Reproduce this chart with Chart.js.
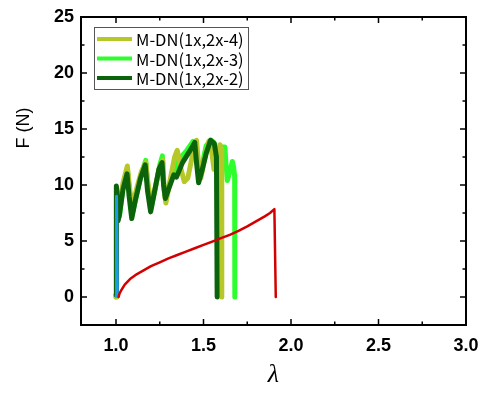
<!DOCTYPE html>
<html>
<head>
<meta charset="utf-8">
<script src="https://cdn.jsdelivr.net/npm/chart.js@4.4.1/dist/chart.umd.min.js"></script>
<style>
  html, body { margin: 0; padding: 0; background: #fff; }
</style>
</head>
<body>
<canvas id="forceChart" width="483" height="397"></canvas>
<script>
// Series: [lambda, F]
const seriesNames = ["M-DN(1x,2x-4)", "M-DN(1x,2x-3)", "M-DN(1x,2x-2)"];

const dn24 = [
  [1.0, 0], [1.003, 9.6], [1.01, 8.0], [1.02, 7.8], [1.04, 10.2], [1.065, 11.7],
  [1.08, 9.4], [1.095, 8.2], [1.12, 9.8], [1.145, 11.2], [1.17, 12.0], [1.185, 9.8],
  [1.205, 8.4], [1.23, 10.2], [1.25, 11.6], [1.268, 12.2], [1.275, 9.5], [1.285, 8.4],
  [1.31, 10.5], [1.335, 12.5], [1.35, 13.1], [1.37, 11.5], [1.39, 10.3], [1.41, 10.6],
  [1.435, 12.5], [1.46, 14.0], [1.47, 12.2], [1.485, 10.6], [1.505, 12.2], [1.53, 13.9],
  [1.545, 13.2], [1.56, 11.4], [1.575, 12.4], [1.594, 13.6], [1.6, 13.2], [1.604, 12.0],
  [1.605, 0]
];
const dn23 = [
  [1.0, 0], [1.003, 9.3], [1.01, 7.5], [1.02, 7.2], [1.04, 9.8], [1.065, 11.4],
  [1.078, 9.2], [1.092, 7.3], [1.115, 8.9], [1.145, 11.0], [1.17, 12.2], [1.183, 9.8],
  [1.2, 7.9], [1.225, 9.7], [1.25, 11.8], [1.265, 12.6], [1.27, 10.5], [1.28, 9.0],
  [1.3, 9.9], [1.33, 11.2], [1.36, 12.3], [1.4, 13.0], [1.44, 13.9], [1.46, 12.5],
  [1.475, 10.8], [1.49, 11.6], [1.515, 13.5], [1.54, 14.0], [1.56, 13.8], [1.57, 12.4],
  [1.585, 11.9], [1.6, 13.4], [1.622, 13.4], [1.628, 12.0], [1.636, 10.4], [1.65, 11.2],
  [1.665, 12.1], [1.672, 11.6], [1.678, 10.8], [1.679, 0]
];
const dn22 = [
  [1.0, 0.2], [1.002, 9.9], [1.006, 9.4], [1.012, 6.8], [1.02, 7.4], [1.04, 9.6],
  [1.063, 11.0], [1.075, 9.0], [1.09, 7.0], [1.11, 8.6], [1.14, 10.6], [1.167, 11.8],
  [1.18, 9.5], [1.198, 7.6], [1.22, 9.4], [1.245, 11.4], [1.263, 12.0], [1.272, 10.0],
  [1.282, 8.8], [1.3, 9.6], [1.33, 10.9], [1.345, 10.7], [1.38, 12.0], [1.42, 13.0],
  [1.45, 13.8], [1.46, 12.0], [1.472, 10.2], [1.49, 11.2], [1.515, 12.8], [1.54, 14.0],
  [1.562, 13.7], [1.574, 12.5], [1.578, 0]
];
const blueRun = [[1.0, 0.1], [1.003, 9.0], [1.008, 0.1]];
const redRun = [
  [1.015, 0], [1.02, 0.3], [1.03, 0.6], [1.05, 1.1], [1.08, 1.6], [1.12, 2.05],
  [1.16, 2.4], [1.2, 2.75], [1.25, 3.1], [1.3, 3.45], [1.35, 3.75], [1.4, 4.05],
  [1.45, 4.35], [1.5, 4.65], [1.55, 4.95], [1.6, 5.25], [1.65, 5.55], [1.7, 5.9],
  [1.75, 6.3], [1.8, 6.75], [1.85, 7.2], [1.88, 7.5], [1.905, 7.85], [1.913, 0]
];

const xTicks = [1.0, 1.5, 2.0, 2.5, 3.0];
const yTicks = [0, 5, 10, 15, 20, 25];

const colors = {
  dn24: "#b5c828",
  dn23: "#2cff2c",
  dn22: "#0b640b",
  blue: "#1e9be6",
  red: "#d20000",
};

const pts = (arr) => arr.map(([x, y]) => ({ x, y }));

// frame with inward ticks, legend box and y title
const framePlugin = {
  id: "frame",
  afterDraw(chart) {
    const { ctx, chartArea: a, scales } = chart;
    const x = scales.x, y = scales.y;
    ctx.save();
    ctx.strokeStyle = "#000";
    ctx.lineWidth = 2;
    ctx.strokeRect(a.left, a.top, a.right - a.left, a.bottom - a.top);

    ctx.lineWidth = 1.5;
    ctx.beginPath();
    for (let v = Math.ceil(x.min / 0.25) * 0.25; v <= x.max + 1e-9; v += 0.25) {
      const px = x.getPixelForValue(v);
      const len = Math.abs(v * 2 - Math.round(v * 2)) < 1e-6 ? 6 : 3.5;
      ctx.moveTo(px, a.bottom); ctx.lineTo(px, a.bottom - len);
      ctx.moveTo(px, a.top); ctx.lineTo(px, a.top + len);
    }
    for (let v = Math.ceil(y.min / 2.5) * 2.5; v <= y.max + 1e-9; v += 2.5) {
      const py = y.getPixelForValue(v);
      const len = Math.abs(v / 5 - Math.round(v / 5)) < 1e-6 ? 6 : 3.5;
      ctx.moveTo(a.left, py); ctx.lineTo(a.left + len, py);
      ctx.moveTo(a.right, py); ctx.lineTo(a.right - len, py);
    }
    ctx.stroke();

    // legend
    const lx = 94, ly = 27, lw = 154, lh = 62;
    ctx.fillStyle = "#fff";
    ctx.fillRect(lx, ly, lw, lh);
    ctx.strokeStyle = "#555";
    ctx.lineWidth = 1;
    ctx.strokeRect(lx + 0.5, ly + 0.5, lw, lh);
    const legendColors = [colors.dn24, colors.dn23, colors.dn22];
    ctx.font = '16.5px "Noto Sans CJK JP"';
    ctx.textBaseline = "middle";
    ctx.textAlign = "left";
    seriesNames.forEach((name, i) => {
      const cy = 39 + i * 19.5;
      ctx.strokeStyle = legendColors[i];
      ctx.lineWidth = 4;
      ctx.beginPath();
      ctx.moveTo(97, cy); ctx.lineTo(132, cy);
      ctx.stroke();
      ctx.fillStyle = "#000";
      ctx.fillText(name, 136, cy + 1);
    });

    // y title
    ctx.translate(24, 128);
    ctx.rotate(-Math.PI / 2);
    ctx.textAlign = "center";
    ctx.font = '18px "Liberation Sans"';
    ctx.fillText("F (N)", 0, 0);
    ctx.restore();
  },
};

const ctx = document.getElementById("forceChart").getContext("2d");
const chart = new Chart(ctx, {
  type: "line",
  data: {
    datasets: [
      { label: "red", data: pts(redRun), borderColor: colors.red, borderWidth: 2.5 },
      { label: "blue", data: pts(blueRun), borderColor: colors.blue, borderWidth: 3 },
      { label: seriesNames[2], data: pts(dn22), borderColor: colors.dn22, borderWidth: 5 },
      { label: seriesNames[0], data: pts(dn24), borderColor: colors.dn24, borderWidth: 5 },
      { label: seriesNames[1], data: pts(dn23), borderColor: colors.dn23, borderWidth: 5 },
    ],
  },
  options: {
    responsive: false,
    animation: false,
    elements: {
      point: { radius: 0 },
      line: { tension: 0, borderJoinStyle: "round", borderCapStyle: "round" },
    },
    layout: { padding: { top: 17, right: 17, left: 0, bottom: 0 } },
    scales: {
      x: {
        type: "linear",
        min: 0.8,
        max: 3.0,
        grid: { display: false, drawTicks: false },
        border: { display: false },
        afterBuildTicks: (s) => { s.ticks = xTicks.map((v) => ({ value: v })); },
        afterFit: (s) => { s.height = 72; s.paddingRight = 0; s.paddingLeft = 0; },
        ticks: {
          padding: 10,
          color: "#000",
          font: { family: "Liberation Sans", size: 18, weight: "bold" },
          callback: (v) => Number(v).toFixed(1),
        },
        title: {
          display: true,
          text: "λ",
          color: "#000",
          padding: { top: 0, bottom: 6 },
          font: { family: "Liberation Serif", size: 26, style: "italic" },
        },
      },
      y: {
        type: "linear",
        min: -2.5,
        max: 25,
        grid: { display: false, drawTicks: false },
        border: { display: false },
        afterBuildTicks: (s) => { s.ticks = yTicks.map((v) => ({ value: v })); },
        afterFit: (s) => { s.width = 81; s.paddingTop = 0; s.paddingBottom = 0; },
        ticks: {
          padding: 7,
          color: "#000",
          font: { family: "Liberation Sans", size: 18, weight: "bold" },
        },
      },
    },
    plugins: {
      legend: { display: false },
      tooltip: { enabled: false },
    },
  },
  plugins: [framePlugin],
});
</script>
</body>
</html>
